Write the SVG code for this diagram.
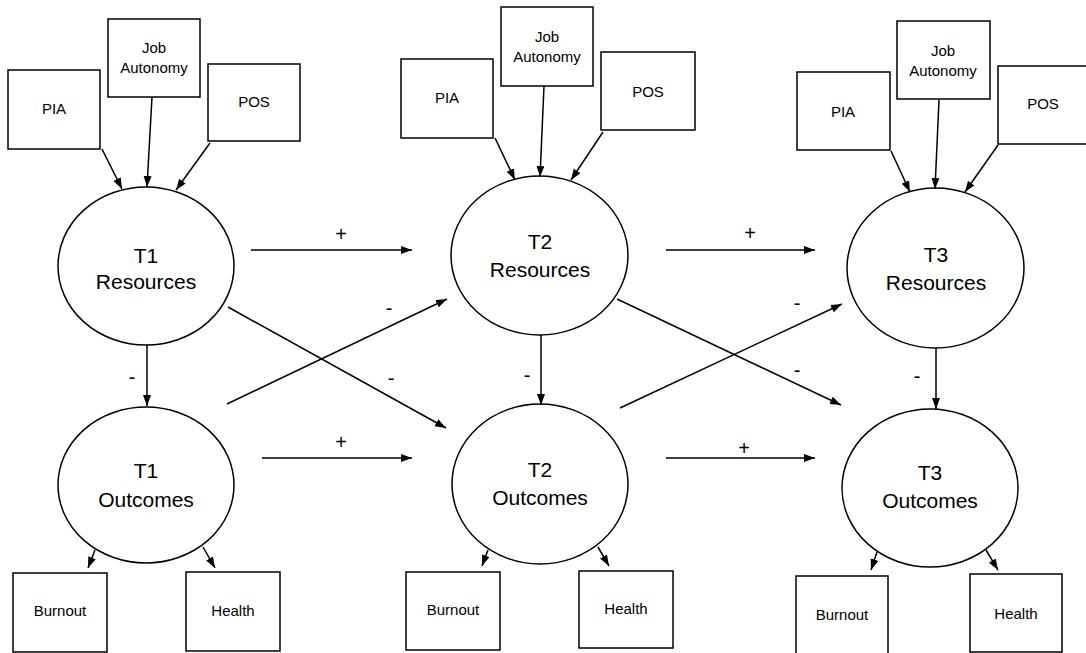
<svg xmlns="http://www.w3.org/2000/svg" width="1086" height="653" viewBox="0 0 1086 653">
<defs>
<marker id="ah" markerUnits="userSpaceOnUse" markerWidth="12" markerHeight="10" refX="11" refY="4" orient="auto">
<path d="M0,0 L11,4 L0,8 Z" fill="#000"/>
</marker>
</defs>
<style>
.box{fill:#fff;stroke:#000;stroke-width:1.5}
.ell{fill:#fff;stroke:#000;stroke-width:1.5}
.lbl{font-family:"Liberation Sans",Arial,sans-serif;font-size:15px;fill:#000;text-anchor:middle}
.big{font-family:"Liberation Sans",Arial,sans-serif;font-size:21px;fill:#000;text-anchor:middle}
.sgn{font-family:"Liberation Sans",Arial,sans-serif;font-size:20px;fill:#000;text-anchor:middle}
.c{stroke:#000;stroke-width:1.5;fill:none;marker-end:url(#ah)}
</style>
<rect width="1086" height="653" fill="#fff"/>

<!-- Group 1 -->
<g id="pia1"><rect class="box" x="8" y="70" width="92" height="79"/><text class="lbl" x="54" y="114">PIA</text></g>
<g id="ja1"><rect class="box" x="108" y="19" width="92" height="78"/><text class="lbl" x="154" y="53">Job</text><text class="lbl" x="154" y="73">Autonomy</text></g>
<g id="pos1"><rect class="box" x="208" y="64" width="92" height="77"/><text class="lbl" x="254" y="107">POS</text></g>
<g id="res1"><ellipse class="ell" cx="146" cy="266" rx="88" ry="79"/><text class="big" x="146" y="263">T1</text><text class="big" x="146" y="289">Resources</text></g>
<g id="out1"><ellipse class="ell" cx="146" cy="485" rx="88" ry="78"/><text class="big" x="146" y="478">T1</text><text class="big" x="146" y="507">Outcomes</text></g>
<g id="burn1"><rect class="box" x="13" y="573" width="94" height="79"/><text class="lbl" x="60" y="616">Burnout</text></g>
<g id="health1"><rect class="box" x="186" y="572" width="94" height="79"/><text class="lbl" x="233" y="616">Health</text></g>

<!-- Group 2 -->
<g id="pia2"><rect class="box" x="401" y="59" width="92" height="79"/><text class="lbl" x="447" y="103">PIA</text></g>
<g id="ja2"><rect class="box" x="501" y="7" width="92" height="79"/><text class="lbl" x="547" y="42">Job</text><text class="lbl" x="547" y="62">Autonomy</text></g>
<g id="pos2"><rect class="box" x="601" y="52" width="94" height="78"/><text class="lbl" x="648" y="97">POS</text></g>
<g id="res2"><ellipse class="ell" cx="539.5" cy="255.5" rx="88.5" ry="79.5"/><text class="big" x="540" y="249">T2</text><text class="big" x="540" y="277">Resources</text></g>
<g id="out2"><ellipse class="ell" cx="540" cy="484" rx="88" ry="80"/><text class="big" x="540" y="477">T2</text><text class="big" x="540" y="505">Outcomes</text></g>
<g id="burn2"><rect class="box" x="406" y="572" width="94" height="78"/><text class="lbl" x="453" y="615">Burnout</text></g>
<g id="health2"><rect class="box" x="579" y="571" width="94" height="77"/><text class="lbl" x="626" y="614">Health</text></g>

<!-- Group 3 -->
<g id="pia3"><rect class="box" x="797" y="72" width="93" height="78"/><text class="lbl" x="843" y="117">PIA</text></g>
<g id="ja3"><rect class="box" x="897" y="21" width="93" height="78"/><text class="lbl" x="943" y="56">Job</text><text class="lbl" x="943" y="76">Autonomy</text></g>
<g id="pos3"><rect class="box" x="998" y="66" width="92" height="78"/><text class="lbl" x="1043" y="109">POS</text></g>
<g id="res3"><ellipse class="ell" cx="935.5" cy="268" rx="88.5" ry="80"/><text class="big" x="936" y="262">T3</text><text class="big" x="936" y="290">Resources</text></g>
<g id="out3"><ellipse class="ell" cx="930" cy="488" rx="88" ry="79"/><text class="big" x="930" y="480">T3</text><text class="big" x="930" y="508">Outcomes</text></g>
<g id="burn3"><rect class="box" x="796" y="576" width="92" height="80"/><text class="lbl" x="842" y="620">Burnout</text></g>
<g id="health3"><rect class="box" x="970" y="574" width="92" height="78"/><text class="lbl" x="1016" y="619">Health</text></g>

<!-- Connectors -->
<g id="connectors">
<line class="c" x1="102" y1="149" x2="122" y2="189"/>
<line class="c" x1="152" y1="97" x2="147" y2="187"/>
<line class="c" x1="210" y1="143" x2="176" y2="190"/>
<line class="c" x1="147" y1="345" x2="147" y2="406"/>
<line class="c" x1="95" y1="550" x2="88" y2="568"/>
<line class="c" x1="203" y1="547" x2="215" y2="568"/>

<line class="c" x1="495" y1="138" x2="515" y2="180"/>
<line class="c" x1="544" y1="86" x2="540" y2="177"/>
<line class="c" x1="603" y1="132" x2="571" y2="180"/>
<line class="c" x1="541" y1="335" x2="541" y2="405"/>
<line class="c" x1="488" y1="550" x2="482" y2="566"/>
<line class="c" x1="598" y1="547" x2="609" y2="566"/>

<line class="c" x1="891" y1="151" x2="910" y2="192"/>
<line class="c" x1="939" y1="100" x2="935" y2="189"/>
<line class="c" x1="998" y1="145" x2="965" y2="192"/>
<line class="c" x1="936" y1="348" x2="936" y2="409"/>
<line class="c" x1="877" y1="552" x2="871" y2="570"/>
<line class="c" x1="986" y1="550" x2="998" y2="570"/>

<line class="c" x1="251" y1="250" x2="412" y2="250"/>
<line class="c" x1="262" y1="458" x2="412" y2="458"/>
<line class="c" x1="228" y1="307" x2="446" y2="428"/>
<line class="c" x1="227" y1="404" x2="447" y2="299"/>

<line class="c" x1="666" y1="250" x2="815" y2="250"/>
<line class="c" x1="666" y1="458" x2="815" y2="458"/>
<line class="c" x1="617" y1="299" x2="841" y2="405"/>
<line class="c" x1="620" y1="408" x2="842" y2="304"/>

<text class="sgn" x="341" y="241">+</text>
<text class="sgn" x="341" y="449">+</text>
<text class="sgn" x="389" y="315">-</text>
<text class="sgn" x="391" y="385">-</text>
<text class="sgn" x="132" y="384">-</text>
<text class="sgn" x="750" y="240">+</text>
<text class="sgn" x="744" y="455">+</text>
<text class="sgn" x="797" y="310">-</text>
<text class="sgn" x="797" y="377">-</text>
<text class="sgn" x="527" y="382">-</text>
<text class="sgn" x="917" y="383">-</text>
</g>
</svg>
